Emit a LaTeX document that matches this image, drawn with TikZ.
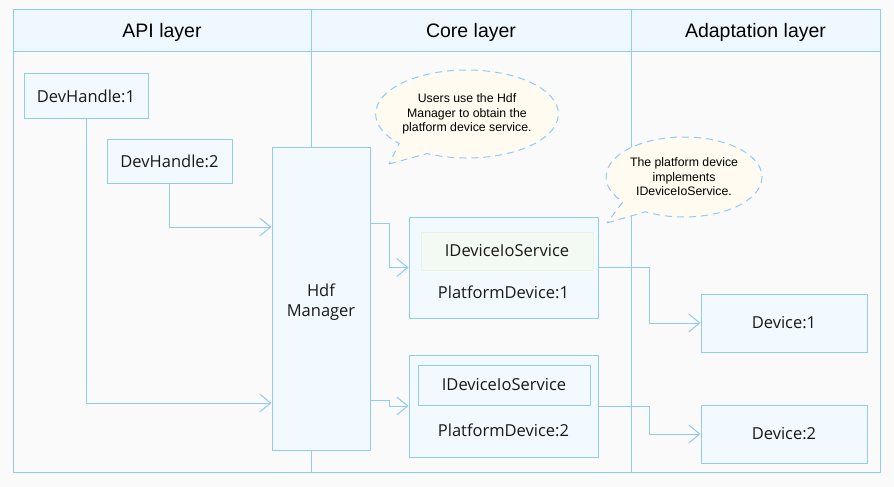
\documentclass[tikz,border=0pt]{standalone}
\usepackage{fontspec}
\setmainfont{Open Sans}
\newfontfamily\arialfont{Liberation Sans}
\usetikzlibrary{arrows.meta,shapes.callouts}

\definecolor{lineblue}{HTML}{90CAF9}
\definecolor{headfill}{HTML}{F0F8FF}
\definecolor{boxfill}{HTML}{F2F9FF}
\definecolor{pagefill}{HTML}{FAFAFA}
\definecolor{notefill}{HTML}{FFFBF0}
\definecolor{softfill}{HTML}{F3FAF3}
\definecolor{softline}{HTML}{E6F4E6}

\tikzset{
  box/.style={draw=lineblue,fill=boxfill,line width=1pt,inner sep=0pt,
    font=\fontsize{16.5}{20}\selectfont,text=black!90},
  link/.style={draw=lineblue,line width=1pt,
    -{Straight Barb[length=11pt,width=18pt,line width=1pt]}},
  note/.style={ellipse callout,draw=lineblue,fill=notefill,line width=1pt,
    dash pattern=on 7pt off 5pt,align=center,inner sep=0pt,
    callout pointer arc=22,
    font=\arialfont\fontsize{12.3}{14.5}\selectfont}
}

\begin{document}
\begin{tikzpicture}[x=1pt,y=-1pt]

  \fill[pagefill] (0,0) rectangle (894,487);
  \useasboundingbox (0,0) rectangle (894,487);

  % frame and lanes
  \begin{scope}[draw=lineblue,line width=1pt]
    \draw[fill=pagefill] (13,10) rectangle (880,472);
    \draw[fill=headfill] (13,10) rectangle (880,52);
    \draw (311,10) -- (311,472);
    \draw (631,10) -- (631,472);
  \end{scope}

  \begin{scope}[every node/.style={font=\arialfont\fontsize{19.5}{23}\selectfont}]
    \node (api)   at (162,32) {API layer};
    \node (core)  at (471,32) {Core layer};
    \node (adapt) at (755.5,32) {Adaptation layer};
  \end{scope}

  % boxes
  \begin{scope}[every node/.append style={box}]
    \node[minimum width=124pt,minimum height=44pt] (dh1) at (86,96) {DevHandle:1};
    \node[minimum width=125pt,minimum height=44pt] (dh2) at (169.5,161) {DevHandle:2};
    \node[minimum width=98pt,minimum height=303pt] (hdf) at (321,298.5) {};
    \node[minimum width=189pt,minimum height=101pt] (pd1) at (503.5,267.5) {};
    \node[minimum width=189pt,minimum height=102pt] (pd2) at (503.5,406) {};
    \node[minimum width=166pt,minimum height=58pt] (dev1) at (784,323) {Device:1};
    \node[minimum width=166pt,minimum height=58pt] (dev2) at (784,434) {Device:2};
    \node[draw=softline,fill=softfill,minimum width=172pt,minimum height=38pt] (io1) at (507,251) {IDeviceIoService};
    \node[minimum width=172pt,minimum height=40pt] (io2) at (504,385) {IDeviceIoService};
  \end{scope}

  \begin{scope}[every node/.style={font=\fontsize{16.5}{20}\selectfont,text=black!90}]
    \node[align=center] (hdfl) at (321,302) {Hdf\\Manager};
    \node (pdl1) at (503.5,292) {PlatformDevice:1};
    \node (pdl2) at (503.5,430) {PlatformDevice:2};
  \end{scope}

  % connectors
  \draw[link] (dh2.south) |- ([yshift=71.5pt]hdf.west);
  \draw[link] (dh1.south) |- ([yshift=-104.5pt]hdf.west);
  \draw[link] ([yshift=75.5pt]hdf.east) -- ++(19,0) |- (pd1.west);
  \draw[link] ([yshift=-101.5pt]hdf.east) -- ++(19,0) |- (pd2.west);
  \draw[link] (pd1.east) -- ++(51,0) |- (dev1.west);
  \draw[link] (pd2.east) -- ++(51,0) |- (dev2.west);

  % notes
  \node[note,minimum width=158pt,minimum height=88pt,
    callout absolute pointer={(389,164)}] (tip1) at (467,114)
    {Users use the Hdf\\Manager to obtain the\\platform device service.};
  \node[note,minimum width=156pt,minimum height=80pt,
    callout absolute pointer={(607,223)}] (tip2) at (684,177)
    {The platform device\\implements\\IDeviceIoService.};

\end{tikzpicture}
\end{document}
